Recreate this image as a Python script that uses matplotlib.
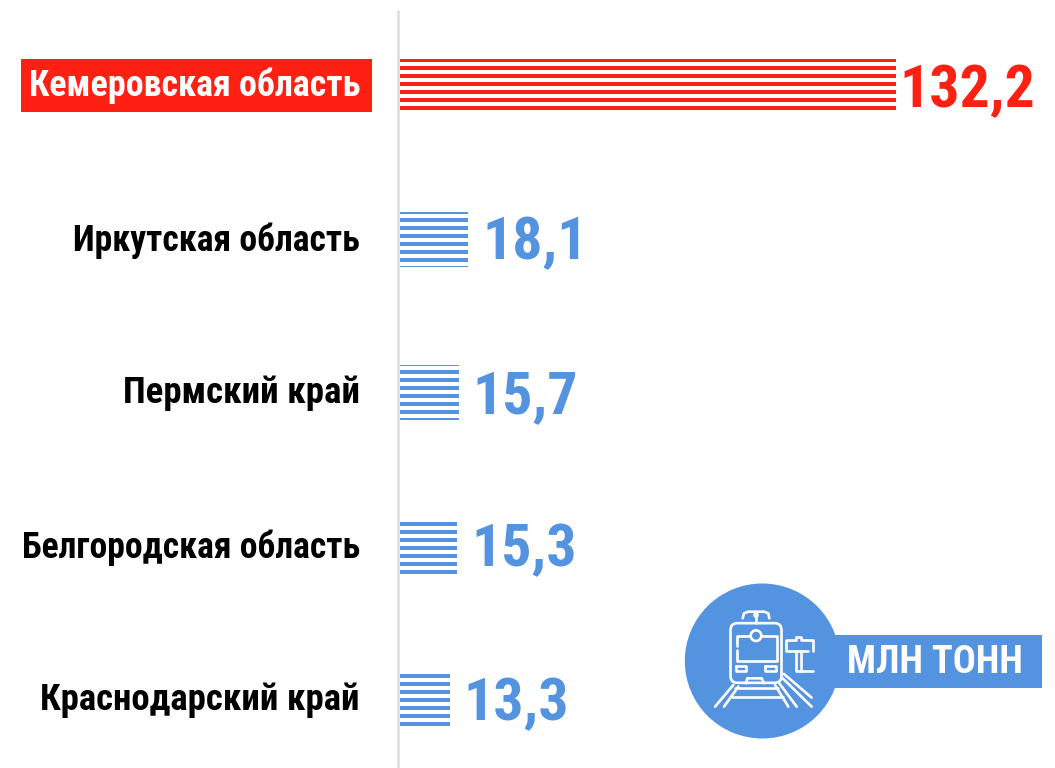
import matplotlib
matplotlib.use('Agg')
from matplotlib import pyplot as plt
from matplotlib.patches import Circle, Rectangle, FancyBboxPatch

regions = ['Кемеровская область', 'Иркутская область', 'Пермский край',
           'Белгородская область', 'Краснодарский край']
values = [132.2, 18.1, 15.7, 15.3, 13.3]
value_labels = ['132,2', '18,1', '15,7', '15,3', '13,3']
unit_label = 'МЛН ТОНН'

# layout, pixels from the top of the picture
bar_top = [59, 212, 365, 522, 674]
bar_bottom = [110, 267, 420, 574, 726]
label_y = [86, 240.5, 393, 547.5, 700.5]
label_size = [25.9, 25.7, 26.6, 25.7, 26.5]
value_y = [91, 243.5, 397, 550.5, 704.5]
value_dx = [4, 15, 14, 14, 14]

RED = '#ff2014'
BLUE = '#5393e0'
FONT = ['Roboto Condensed', 'Open Sans', 'DejaVu Sans']
LW = 1.9

fig = plt.figure(figsize=(10.55, 7.68), dpi=100)

# x in million tonnes, y in pixels
px_per_unit = 3.75
ax = fig.add_axes([0, 0, 1, 1])
ax.set_xlim(-400 / px_per_unit, (1055 - 400) / px_per_unit)
ax.set_ylim(768, 0)
ax.axis('off')

# same area in pixels for the badge
px = fig.add_axes([0, 0, 1, 1])
px.set_xlim(0, 1055)
px.set_ylim(768, 0)
px.axis('off')
px.patch.set_alpha(0)

px.plot([398, 398], [10, 768], color='#dcdcdc', lw=1.8, solid_capstyle='butt')

for i, (name, val, lab) in enumerate(zip(regions, values, value_labels)):
    color = RED if i == 0 else BLUE
    # the stripes share one 8px pattern over the whole picture, cut at the bar ends
    for y in range(2, 768, 8):
        top = max(y, bar_top[i])
        bottom = min(y + 4, bar_bottom[i])
        if bottom > top:
            ax.barh((top + bottom) / 2, val, height=bottom - top, color=color, lw=0)
    if i == 0:
        px.add_patch(Rectangle((21, 59), 351, 53, color=RED, lw=0))
    px.text(360, label_y[i], name, ha='right', va='center', family=FONT, weight='bold',
            fontsize=label_size[i], color='white' if i == 0 else 'black')
    ax.annotate(lab, (val, value_y[i]), xytext=(value_dx[i], 0), textcoords='offset pixels',
                ha='left', va='center', family=FONT, weight='bold', fontsize=43, color=color)

# badge
px.add_patch(Circle((762.3, 661), 77.5, color=BLUE, lw=0))
px.add_patch(Rectangle((825, 635), 217, 53, color=BLUE, lw=0))
px.text(935, 662.5, unit_label, ha='center', va='center', family=FONT, weight='bold',
        fontsize=27.5, color='white')


def zx(v):
    return 670 + v / 3


def zy(v):
    return 570 + v / 3


def seg(*pts):
    px.plot([zx(p[0]) for p in pts], [zy(p[1]) for p in pts], color='white', lw=LW,
            solid_capstyle='round', solid_joinstyle='round')


px.add_patch(FancyBboxPatch((zx(198), zy(176)), 120 / 3, 146 / 3,
                            boxstyle='round,pad=5.5,rounding_size=7', fc='none', ec='white', lw=LW))
seg((240, 198), (200, 198), (200, 228))
seg((200, 240), (200, 272), (320, 272), (320, 198), (276, 198))
px.add_patch(Circle((zx(258), zy(197)), 5.3, fc=BLUE, ec='white', lw=LW))
seg((198, 289), (228, 289), (228, 302), (198, 302), (198, 289))
seg((285, 289), (318, 289), (318, 302), (285, 302), (285, 289))
seg((228, 340), (232, 325), (275, 325), (282, 340))
seg((218, 145), (222, 130), (235, 125), (282, 125), (295, 130), (298, 145))
seg((258, 128), (258, 158))
px.add_patch(Circle((zx(258), zy(135)), 2, fc=BLUE, ec='white', lw=1.2))
seg((190, 345), (135, 410))
seg((205, 350), (162, 410))
seg((195, 355), (325, 355))
seg((185, 380), (340, 380))
seg((315, 345), (355, 410))
seg((328, 340), (380, 410))
seg((338, 325), (425, 410))
seg((342, 312), (425, 383))
seg((428, 243), (428, 210), (392, 210), (392, 200), (378, 200), (378, 210), (348, 210),
    (348, 242), (415, 242))
seg((378, 242), (378, 302), (428, 302))
seg((392, 242), (392, 302))

fig.savefig('out.png', dpi=100)
